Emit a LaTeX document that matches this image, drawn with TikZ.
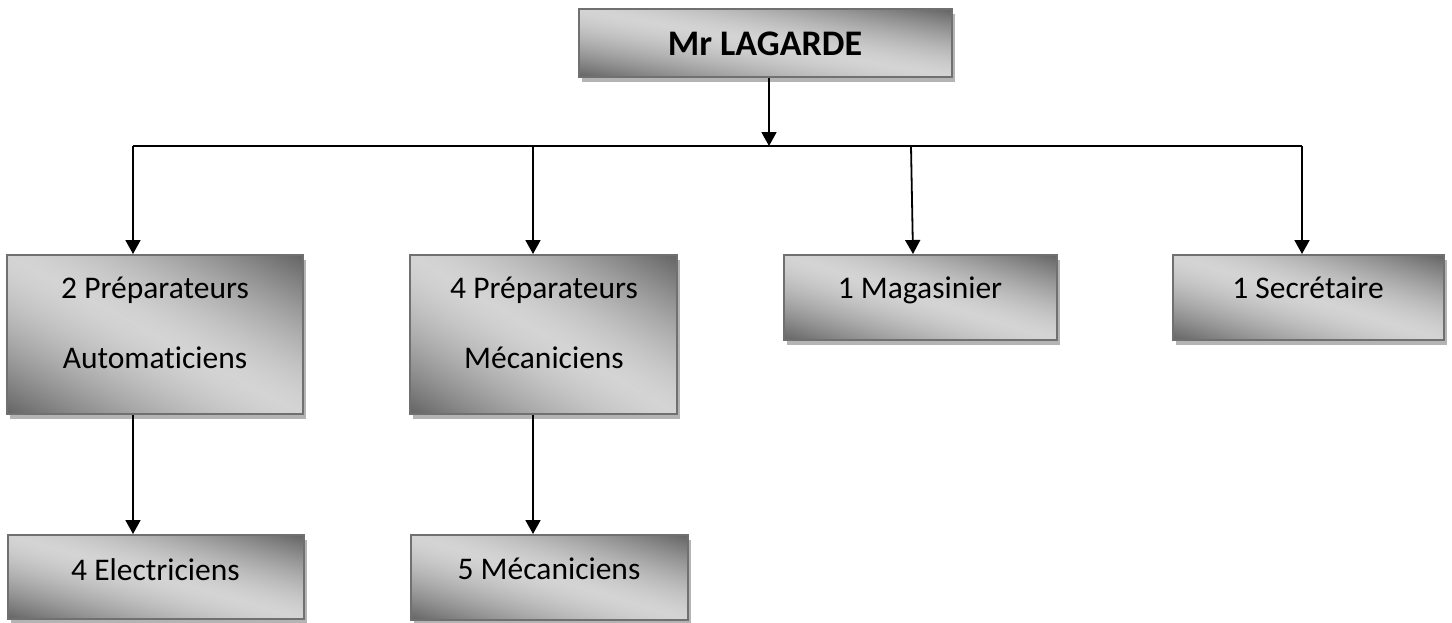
\documentclass[tikz,border=0pt]{standalone}
\usepackage{fontspec}
\setmainfont{Carlito}[Ligatures={NoCommon}]
\usetikzlibrary{arrows.meta,shadows}
\definecolor{boxedge}{HTML}{707070}
\definecolor{shadowgray}{HTML}{B4B4B4}
% light band along the top-left / bottom-right diagonal, dark at the other two corners
% (the path's bounding box covers 25bp..75bp of the shading square)
\pgfdeclarefunctionalshading{boxshade}{\pgfpoint{0bp}{0bp}}{\pgfpoint{100bp}{100bp}}{}{
  add 50 sub 100 div 0.5 sub abs 2 mul
  dup 1 gt {pop 1} if
  dup sqrt mul
  0.44 mul 0.83 exch sub
  dup dup
}
\tikzset{
  orgbox/.style={draw=boxedge, line width=2pt, inner sep=0pt,
    shading=boxshade, shading angle=0,
    drop shadow={shadow xshift=3pt, shadow yshift=-5pt, fill=shadowgray, opacity=1}},
  lbl/.style={inner sep=0pt, font=\fontsize{31.5}{36}\selectfont, anchor=base},
  lblb/.style={inner sep=0pt, font=\fontsize{36}{40}\selectfont\bfseries, anchor=base},
  ln/.style={line width=1.8pt, black},
  arr/.style={line width=1.8pt, black, -{Triangle[length=14pt, width=15pt]}}
}
\begin{document}
\begin{tikzpicture}[x=1pt, y=-1pt]
\fill[white] (0,0) rectangle (1452,622);
\useasboundingbox (0,0) rectangle (1452,622);

% boxes
\node[orgbox, minimum width=373pt, minimum height=68pt] (top) at (765.5,43) {};
\node[orgbox, minimum width=296pt, minimum height=159pt] (b1) at (155,334.5) {};
\node[orgbox, minimum width=267pt, minimum height=159pt] (b2) at (543.5,334.5) {};
\node[orgbox, minimum width=273pt, minimum height=85pt] (b3) at (920.5,297.5) {};
\node[orgbox, minimum width=271pt, minimum height=85pt] (b4) at (1308.5,297.5) {};
\node[orgbox, minimum width=296pt, minimum height=84pt] (b5) at (156,577) {};
\node[orgbox, minimum width=277pt, minimum height=85pt] (b6) at (549.5,577.5) {};

% texts
\node[lblb] (ttop) at (765,55) {Mr LAGARDE};
\node[lbl] (t1a) at (155,298) {2 Préparateurs};
\node[lbl] (t1b) at (155,368) {Automaticiens};
\node[lbl] (t2a) at (544,298) {4 Préparateurs};
\node[lbl] (t2b) at (544,368) {Mécaniciens};
\node[lbl] (t3) at (920,298) {1 Magasinier};
\node[lbl] (t4) at (1308,298) {1 Secrétaire};
\node[lbl] (t5) at (155.5,580) {4 Electriciens};
\node[lbl] (t6) at (549,579) {5 Mécaniciens};

% connectors
\coordinate (bus) at (769,146);
\coordinate (busL) at (133,146);
\coordinate (busA) at (533,146);
\coordinate (busM) at (911,146);
\coordinate (busR) at (1302,146);
\draw[ln] (busL) -- (busR);
\draw[arr] (top.south -| bus) -- (bus);
\draw[arr] (busL) -- (b1.north -| busL);
\draw[arr] (busA) -- (b2.north -| busA);
\draw[arr] (busM) -- ([xshift=2pt]b3.north -| busM);
\draw[arr] (busR) -- (b4.north -| busR);
\draw[arr] (b1.south -| busL) -- (b5.north -| busL);
\draw[arr] (b2.south -| busA) -- (b6.north -| busA);
\end{tikzpicture}
\end{document}
